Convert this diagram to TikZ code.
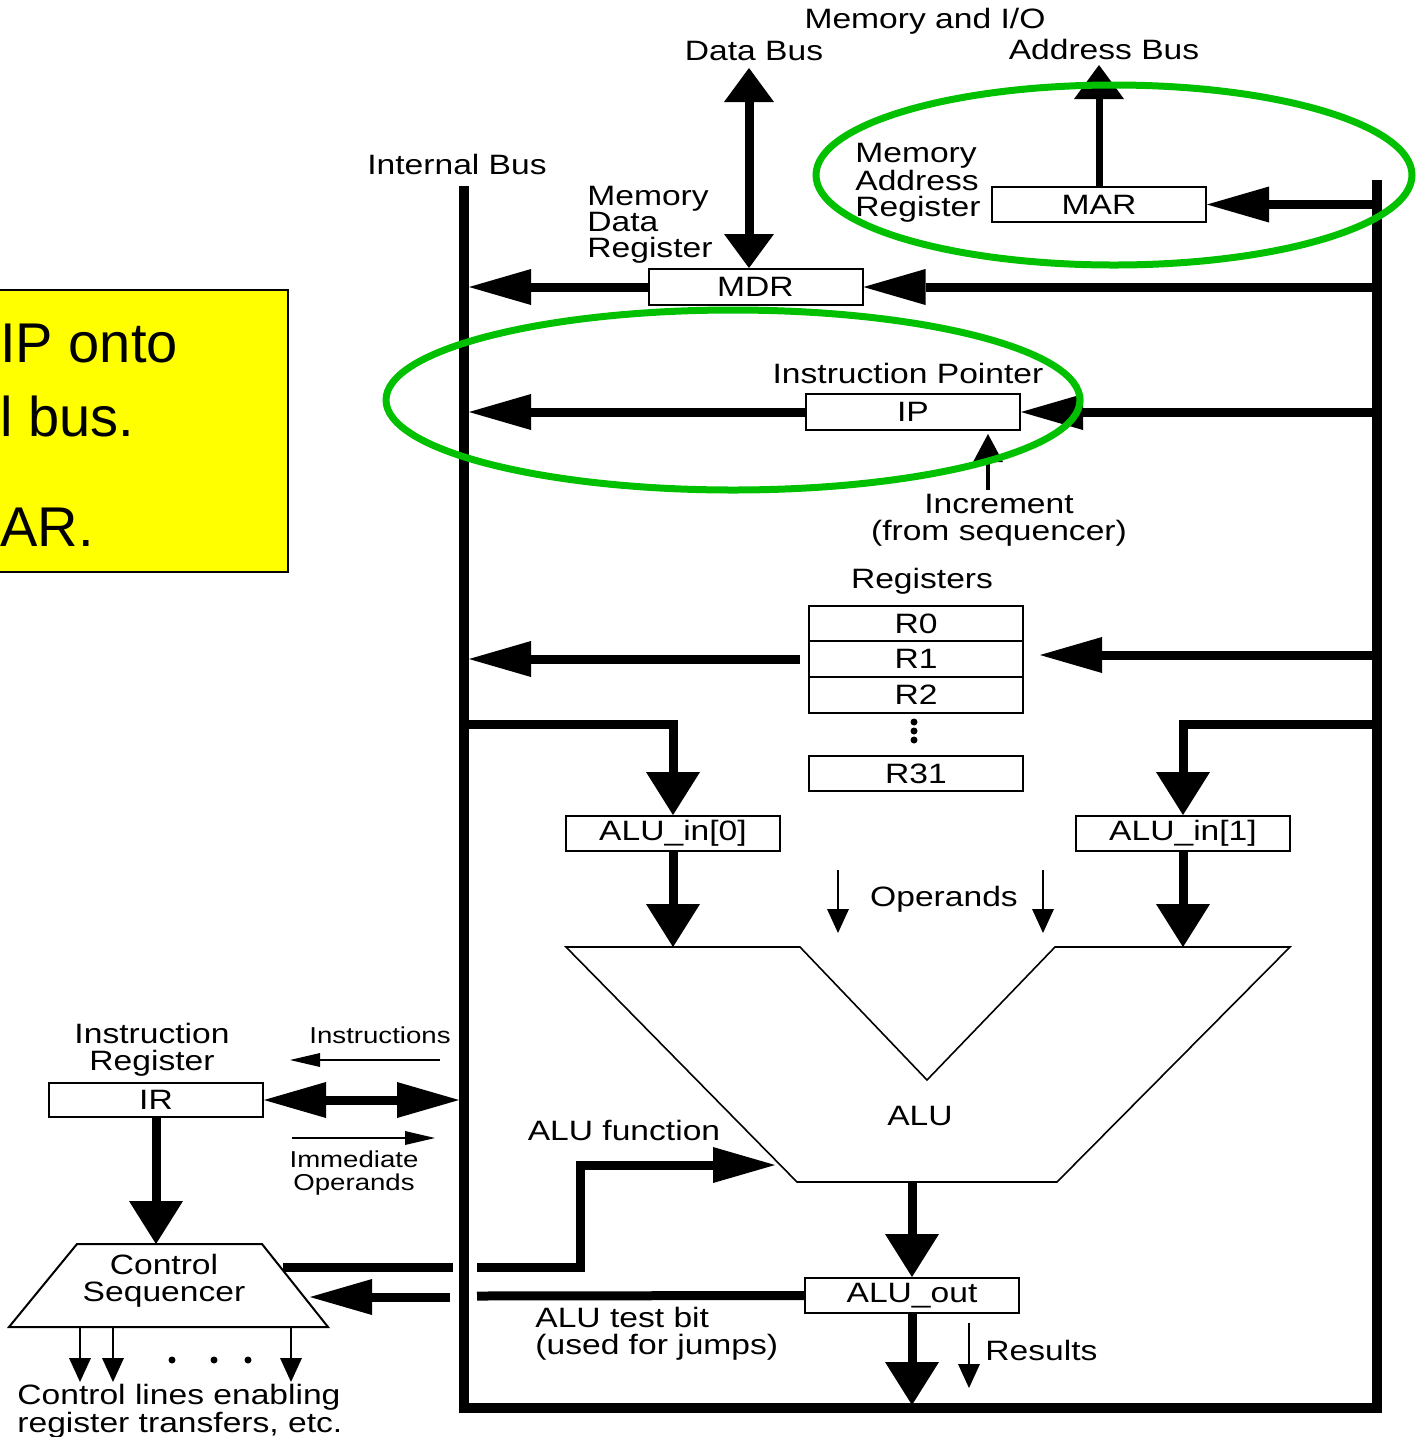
\documentclass[tikz,border=0pt]{standalone}
\usepackage{fontspec}
\setmainfont{Liberation Sans}[FakeStretch=1.2]
\newfontfamily\yfont{Liberation Sans}
\usetikzlibrary{arrows.meta,calc}
\definecolor{ggreen}{RGB}{0,192,0}
\definecolor{yel}{RGB}{255,255,0}
\begin{document}
\begin{tikzpicture}[x=0.5pt,y=-0.5pt,
  box/.style={draw,line width=1pt,minimum width=107pt,minimum height=17.5pt,inner sep=0pt,font=\fontsize{14}{14}\selectfont},
  lbl/.style={inner sep=0pt,font=\fontsize{14}{13}\selectfont},
  lblw/.style={inner sep=0pt,font=\fontsize{14}{13.5}\selectfont},
  lbln/.style={inner sep=0pt,font=\fontsize{14}{12.5}\selectfont},
  slbl/.style={inner sep=0pt,font=\fontsize{11.5}{11.5}\selectfont},
  busline/.style={line width=5pt,line join=miter},
  fat/.style={line width=4.5pt,line join=miter},
  hair/.style={line width=1.2pt},
  HH/.tip={Triangle[length=31pt,width=18pt,line width'=0pt]},
  VH/.tip={Triangle[length=21.5pt,width=27pt,line width'=0pt]},
  DH/.tip={Triangle[length=17pt,width=25pt,line width'=0pt]},
  IH/.tip={Triangle[length=14pt,width=15pt,line width'=0pt]},
  TV/.tip={Triangle[length=12pt,width=11pt,line width'=0pt]},
  TH/.tip={Triangle[length=15pt,width=7pt,line width'=0pt]},
]
\useasboundingbox (0,0) rectangle (1416,1437);
\clip (0,0) rectangle (1416,1437);

% yellow note (cropped)
\draw[fill=yel,line width=1.2pt] (-20,290) rectangle (288,572);
\node[anchor=base west,inner sep=0pt,font=\yfont\fontsize{28}{28}\selectfont] (y1) at (0,362) {IP onto};
\node[anchor=base west,inner sep=0pt,font=\yfont\fontsize{28}{28}\selectfont] (y2) at (0,436) {l bus.};
\node[anchor=base west,inner sep=0pt,font=\yfont\fontsize{28}{28}\selectfont] (y3) at (0,546) {AR.};

% buses
\coordinate (lbT) at (464,186);
\coordinate (lbB) at (464,1408);
\coordinate (rbT) at (1377,180);
\coordinate (rbB) at (1377,1408);
\coordinate (lbx) at (469,0);
\coordinate (lbw) at (459,0);
\draw[busline] (lbT) -- (lbB) -- (rbB) -- (rbT);

% boxes
\node[box] (MAR) at (1099,204.5) {MAR};
\node[box,minimum height=18pt] (MDR) at (755.5,287) {MDR};
\node[box,minimum height=18pt] (IP) at (913,412) {IP};
\node[box] (R0) at (916,623.5) {R0};
\node[box,minimum height=18pt] (R1) at (916,659) {R1};
\node[box,minimum height=18pt] (R2) at (916,695) {R2};
\node[box] (R31) at (916,773.5) {R31};
\node[box] (AI0) at (673,833.5) {ALU\_in[0]};
\node[box] (AI1) at (1183,833.5) {ALU\_in[1]};
\node[box] (AO) at (912,1295.5) {ALU\_out};
\node[box,minimum height=17pt] (IR) at (156,1100) {IR};

% register dots
\fill (914,722) circle (3.5);
\fill (914,731) circle (3.5);
\fill (914,740) circle (3.5);

% memory side
\coordinate (addr) at (1099,65);
\coordinate (dbus) at (749,68);
\draw[fat,-HH] (MAR.east -| rbT) -- (MAR.east);
\draw[line width=3.5pt,-DH] (MAR.north) -- (addr);
\draw[fat,DH-DH] (dbus) -- (MDR.north -| dbus);
\draw[fat,-HH] (MDR.east -| rbT) -- (MDR.east);
\draw[fat,-HH] (MDR.west) -- (MDR.west -| lbx);

% IP
\draw[fat,-HH] (IP.east -| rbT) -- (IP.east);
\draw[fat,-HH] (IP.west) -- (IP.west -| lbx);
\coordinate (inc) at (988,490);
\draw[line width=2pt,-IH] (inc) -- (988,434);

% registers
\coordinate (rl) at (800,659);
\coordinate (rr) at (1040,655);
\draw[fat,-HH] (rl) -- (rl -| lbx);
\draw[fat,-HH] (rr -| rbT) -- (rr);

% ALU inputs
\coordinate (brL) at (464,724);
\coordinate (brR) at (1377,724);
\draw[fat,-VH] (brL) -| (AI0.north);
\draw[fat,-VH] (brR) -| (AI1.north);

\coordinate (a1) at (566,947);
\coordinate (a2) at (800,947);
\coordinate (a3) at (927,1080);
\coordinate (a4) at (1055,947);
\coordinate (a5) at (1290,947);
\coordinate (a6) at (1057,1182);
\coordinate (a7) at (797,1182);
\draw[fat,-VH] (AI0.south) -- (AI0.south |- a1);
\draw[fat,-VH] (AI1.south) -- (AI1.south |- a1);

\coordinate (op1) at (838,870);
\coordinate (op2) at (1043,870);
\draw[hair,-TV] (op1) -- (838,933);
\draw[hair,-TV] (op2) -- (1043,933);

% ALU
\draw[line width=0.8pt,line join=miter] (a1) -- (a2) -- (a3) -- (a4) -- (a5) -- (a6) -- (a7) -- cycle;
\node[lbl] (alu) at (920,1116) {ALU};
\coordinate (aob) at (912,1182);
\draw[fat,-VH] (aob) -- (AO.north);
\draw[fat,-VH] (AO.south) -- (912,1405);
\coordinate (res) at (969,1323);
\draw[hair,-TV] (res) -- (969,1388);

% control sequencer
\coordinate (c1) at (77,1244);
\coordinate (c2) at (262,1244);
\coordinate (c3) at (328,1327);
\coordinate (c4) at (9,1327);
\draw[line width=1pt,line join=miter] (c1) -- (c2) -- (c3) -- (c4) -- cycle;
\node[lblw,align=center] (cs) at (164,1281) {Control\\Sequencer};
\draw[fat,-VH] (IR.south) -- (IR.south |- c1);

% IR <-> bus
\draw[fat,HH-HH] (IR.east) -- (IR.east -| lbw);
\coordinate (ins) at (440,1060);
\coordinate (imm) at (292,1138);
\draw[hair,-TH] (ins) -- (290,1060);
\draw[hair,-TH] (imm) -- (435,1138);

% ALU function
\coordinate (f0) at (283,1267);
\coordinate (f1) at (453,1267);
\coordinate (f2) at (477,1267);
\coordinate (f3) at (580,1165);
\coordinate (f4) at (775,1165);
\draw[fat] (f0) -- (f1);
\draw[fat,-HH] (f2) -| (f3) -- (f4);

% ALU test bit
\coordinate (t1) at (477,1296);
\coordinate (t2) at (450,1297);
\coordinate (t3) at (310,1297);
\draw[fat] (AO.west) -- (t1);
\draw[fat,-HH] (t2) -- (t3);

% control lines
\coordinate (cl1) at (80,1382);
\coordinate (cl2) at (113,1382);
\coordinate (cl3) at (291,1382);
\draw[hair,-TV] (cl1 |- c4) -- (cl1);
\draw[hair,-TV] (cl2 |- c4) -- (cl2);
\draw[hair,-TV] (cl3 |- c4) -- (cl3);
\fill (172,1360) circle (3.5);
\fill (214,1360) circle (3.5);
\fill (248,1360) circle (3.5);

% labels
\node[lbl] (l1) at (925,21) {Memory and I/O};
\node[lbl] (l2) at (754,51) {Data Bus};
\node[lbl] (l3) at (1104,49) {Address Bus};
\node[lbl] (l4) at (457,164) {Internal Bus};
\node[lbl,align=left,anchor=north west] (l5) at (587,186) {Memory\\Data\\Register};
\node[lbl,align=left,anchor=north west] (l6) at (855,143) {Memory\\Address\\Register};
\node[lbl] (l7) at (908,373) {Instruction  Pointer};
\node[lblw,align=center] (l8) at (999,520) {Increment\\(from sequencer)};
\node[lbl] (l9) at (922,581) {Registers};
\node[lbl] (l10) at (944,899) {Operands};
\node[lbl] (l11) at (624,1130) {ALU function};
\node[lblw,align=left,anchor=north west] (l12) at (535,1307) {ALU test bit\\(used for jumps)};
\node[lbl,anchor=west] (l13) at (985,1350) {Results};
\node[lblw,align=center] (l14) at (152,1050) {Instruction\\Register};
\node[slbl] (l15) at (380,1035) {Instructions};
\node[slbl,align=center] (l16) at (354,1173) {Immediate\\Operands};
\node[lbln,align=left,anchor=north west] (l17) at (17,1384) {Control lines enabling\\register transfers, etc.};

% green highlight ellipses
\draw[ggreen,line width=3.5pt] (1114,175) ellipse [x radius=298,y radius=90];
\draw[ggreen,line width=3.5pt] (733,400) ellipse [x radius=347,y radius=90];
\end{tikzpicture}
\end{document}
